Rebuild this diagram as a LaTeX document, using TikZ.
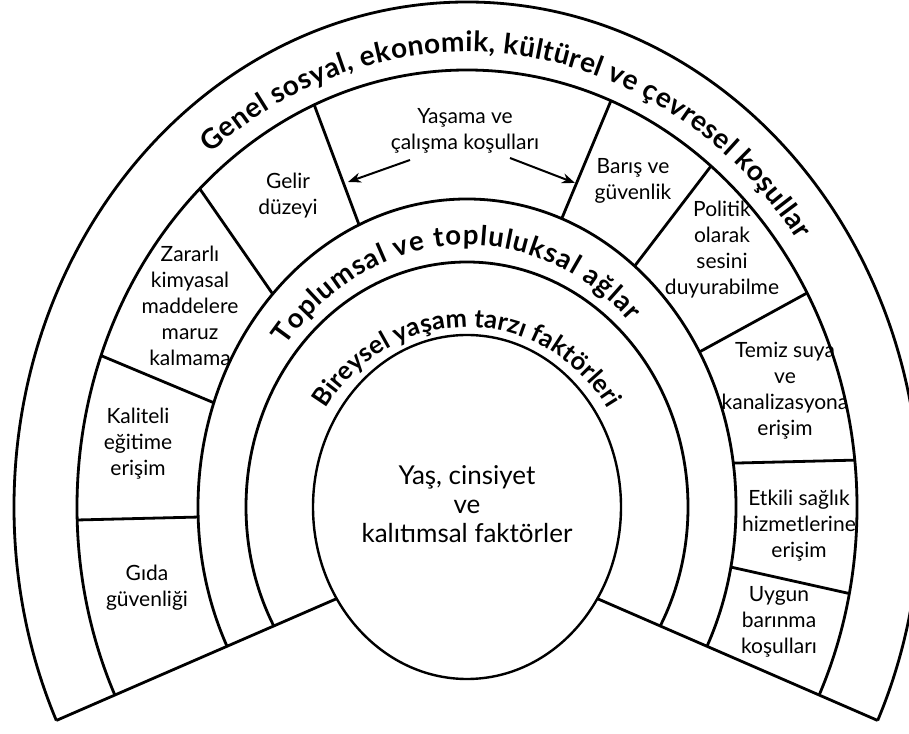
\documentclass[tikz,border=0pt]{standalone}
\usepackage{fontspec}
\setmainfont{Lato}
\usetikzlibrary{decorations.text,arrows.meta}
\newcommand{\segfont}{\fontsize{21}{26}\selectfont}
\newcommand{\ctrfont}{\fontsize{26}{29}\selectfont}
\newcommand{\arcfontA}{\fontsize{28}{28}\selectfont\bfseries}
\newcommand{\arcfontT}{\fontsize{27.5}{28}\selectfont\bfseries}
\newcommand{\arcfontB}{\fontsize{25.5}{26}\selectfont\bfseries}
\begin{document}
\begin{tikzpicture}[x=1pt,y=1pt,
  ring/.style={line width=2.8pt},
  inner oval/.style={line width=2.4pt},
  divider/.style={line width=2.8pt, shorten <=-25pt, shorten >=-25pt},
  seg/.style={align=center, font=\segfont, inner sep=0pt},
  ctr/.style={align=center, font=\ctrfont, inner sep=0pt},
  arrowc/.style={line width=2pt, -{Stealth[length=13pt,width=10pt]}}
]
\useasboundingbox (0,0) rectangle (909,733);
\clip (0,0) rectangle (909,733);

\coordinate (C) at (467,226);
\coordinate (P) at (467,191);
\coordinate (FL) at (-175,-88);
\coordinate (FR) at (1109,-88);

% rings
\begin{scope}
  \clip (P) -- (FL) -- (-175,800) -- (1109,800) -- (FR) -- cycle;
  \foreach \rx/\ry in {221/245, 269/308, 390/437, 453/505}
    \draw[ring] (C) ellipse [x radius=\rx, y radius=\ry];
\end{scope}

% dividers of the segmented band
\begin{scope}[even odd rule]
  \clip (C) ellipse [x radius=390, y radius=437]
        (C) ellipse [x radius=269, y radius=308];
  \coordinate (d1a) at (102,377); \coordinate (d1b) at (212,331);
  \coordinate (d2a) at (202,541); \coordinate (d2b) at (272,440);
  \coordinate (d3a) at (315,626); \coordinate (d3b) at (358,511);
  \coordinate (d4a) at (610,630); \coordinate (d4b) at (562,515);
  \coordinate (d5a) at (708,563); \coordinate (d5b) at (637,470);
  \coordinate (d6a) at (807,440); \coordinate (d6b) at (703,383);
  \coordinate (d7a) at (738,270); \coordinate (d7b) at (860,273);
  \coordinate (d8a) at (735,165); \coordinate (d8b) at (847,140);
  \coordinate (d9a) at (77,213);  \coordinate (d9b) at (200,216);
  \foreach \i in {1,...,9}
    \draw[divider] (d\i a) -- (d\i b);
\end{scope}

% bottom edges
\begin{scope}[even odd rule]
  \clip (C) ellipse [x radius=453, y radius=505]
        (C) ellipse [x radius=154, y radius=172];
  \draw[ring] (P) -- (FL);
  \draw[ring] (P) -- (FR);
\end{scope}

% central oval
\draw[inner oval] (C) ellipse [x radius=154, y radius=172];

% curved titles
\begin{scope}[shift={(C)}]
  \path[decorate, decoration={text along path, text align={fit to path},
      text={|\arcfontA|Genel sosyal, ekonomik, kültürel ve çevresel koşullar}}]
    (129:408 and 455) arc[start angle=129, end angle=36, x radius=408, y radius=455];
  \path[decorate, decoration={text along path, text align={fit to path},
      text={|\arcfontT|Toplumsal ve topluluksal ağlar}}]
    (142:230 and 262) arc[start angle=142, end angle=45, x radius=230, y radius=262];
  \path[decorate, decoration={text along path, text align={fit to path},
      text={|\arcfontB|Bireysel yaşam tarzı faktörleri}}]
    (147:168 and 180) arc[start angle=147, end angle=33, x radius=168, y radius=180];
\end{scope}

% segment texts
\node[seg] (yasama) at (465,602) {Yaşama ve\\çalışma koşulları};
\node[seg] (gelir) at (288,537) {Gelir\\düzeyi};
\node[seg] (zarar) at (190,427) {Zararlı\\kimyasal\\maddelere\\maruz\\kalmama};
\node[seg] (egitim) at (138,289) {Kaliteli\\eğitime\\erişim};
\node[seg] (gida) at (147,145) {Gıda\\güvenliği};
\node[seg] (baris) at (633,552) {Barış ve\\güvenlik};
\node[seg] (politik) at (722,483) {Politik\\olarak\\sesini\\duyurabilme};
\node[seg] (su) at (785,342) {Temiz suya\\ve\\kanalizasyona\\erişim};
\node[seg] (saglik) at (799,207) {Etkili sağlık\\hizmetlerine\\erişim};
\node[seg] (barinma) at (779,111) {Uygun\\barınma\\koşulları};
\node[ctr] (yas) at (467,229) {Yaş, cinsiyet\\ve\\kalıtımsal faktörler};

% arrows
\coordinate (al1) at (410,573); \coordinate (al2) at (348,551);
\coordinate (ar1) at (510,575); \coordinate (ar2) at (575,550);
\draw[arrowc] (al1) -- (al2);
\draw[arrowc] (ar1) -- (ar2);
\end{tikzpicture}
\end{document}
